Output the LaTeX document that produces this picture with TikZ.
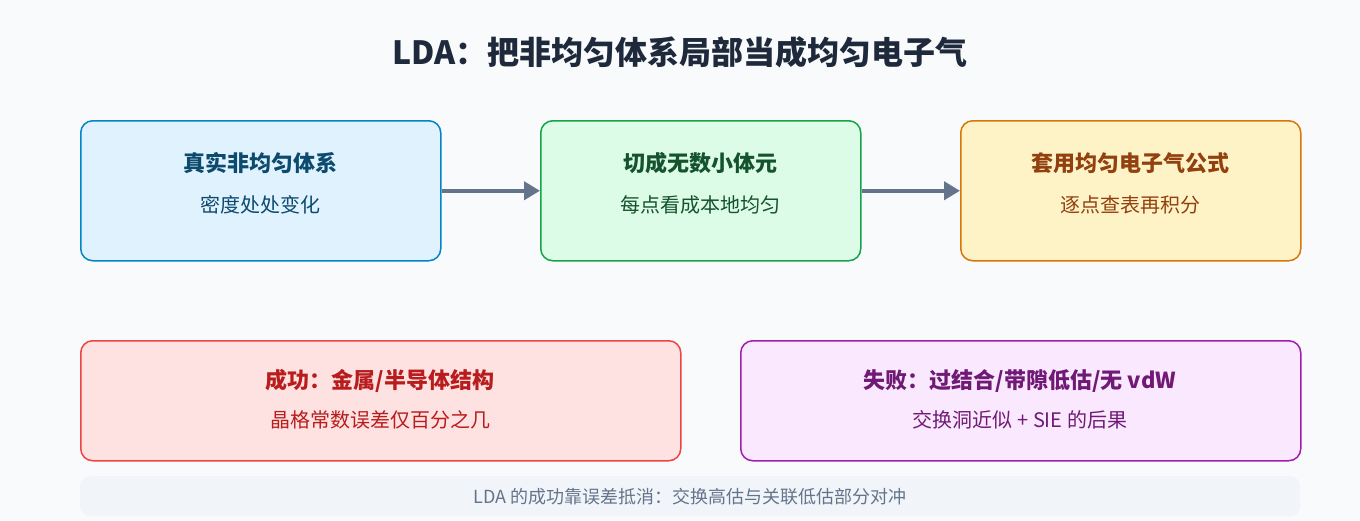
\documentclass[tikz,border=0pt]{standalone}
\usepackage{fontspec}
\setmainfont{Noto Sans CJK SC}
\usetikzlibrary{arrows.meta}
\definecolor{bg}{HTML}{F8FAFC}
\definecolor{arr}{HTML}{64748B}
\definecolor{d1}{HTML}{0284C7}\definecolor{f1}{HTML}{E0F2FE}\definecolor{x1}{HTML}{0C4A6E}
\definecolor{d2}{HTML}{16A34A}\definecolor{f2}{HTML}{DCFCE7}\definecolor{x2}{HTML}{14532D}
\definecolor{d3}{HTML}{D97706}\definecolor{f3}{HTML}{FEF3C7}\definecolor{x3}{HTML}{92400E}
\definecolor{d4}{HTML}{EF4444}\definecolor{f4}{HTML}{FEE2E2}\definecolor{x4}{HTML}{B91C1C}
\definecolor{d5}{HTML}{A21CAF}\definecolor{f5}{HTML}{FAE8FF}\definecolor{x5}{HTML}{701A75}
\definecolor{f6}{HTML}{F1F5F9}\definecolor{tt}{HTML}{1E293B}
\tikzset{
 box/.style={draw=#1, line width=1.5pt, rounded corners=12pt, anchor=north west, inner sep=0pt},
 ttl/.style={font=\fontsize{22}{26}\selectfont\bfseries},
 sub/.style={font=\fontsize{20}{24}\selectfont},
 conn/.style={draw=arr, line width=4pt, -{Triangle[length=16pt,width=18pt]}}
}
\begin{document}
\begin{tikzpicture}[x=1pt,y=-1pt]
\fill[bg] (0,0) rectangle (1360,520);
\useasboundingbox (0,0) rectangle (1360,520);
\node[font=\fontsize{32}{38}\selectfont\bfseries, text=tt] (t) at (680,52) {LDA：把非均匀体系局部当成均匀电子气};
\node[box=d1, fill=f1, minimum width=360pt, minimum height=140pt] (b1) at (80,120) {};
\node[box=d2, fill=f2, minimum width=320pt, minimum height=140pt] (b2) at (540,120) {};
\node[box=d3, fill=f3, minimum width=340pt, minimum height=140pt] (b3) at (960,120) {};
\node[box=d4, fill=f4, minimum width=600pt, minimum height=120pt] (b4) at (80,340) {};
\node[box=d5, fill=f5, minimum width=560pt, minimum height=120pt] (b5) at (740,340) {};
\node[anchor=north west, fill=f6, rounded corners=10pt, minimum width=1220pt, minimum height=40pt, inner sep=0pt] (b6) at (80,476) {};
\node[ttl, text=x1] (t1) at (260,163) {真实非均匀体系};
\node[sub, text=x1] (s1) at (260,205) {密度处处变化};
\node[ttl, text=x2] (t2) at (700,163) {切成无数小体元};
\node[sub, text=x2] (s2) at (700,205) {每点看成本地均匀};
\node[ttl, text=x3] (t3) at (1130,163) {套用均匀电子气公式};
\node[sub, text=x3] (s3) at (1130,205) {逐点查表再积分};
\node[ttl, text=x4] (t4) at (380,381) {成功：金属/半导体结构};
\node[sub, text=x4] (s4) at (380,420) {晶格常数误差仅百分之几};
\node[ttl, text=x5] (t5) at (1020,381) {失败：过结合/带隙低估/无 vdW};
\node[sub, text=x5] (s5) at (1020,420) {交换洞近似 + SIE 的后果};
\node[font=\fontsize{18}{22}\selectfont, text=arr] (f) at (690,497) {LDA 的成功靠误差抵消：交换高估与关联低估部分对冲};
\draw[conn] (b1.east) -- (b2.west);
\draw[conn] (b2.east) -- (b3.west);
\end{tikzpicture}
\end{document}
